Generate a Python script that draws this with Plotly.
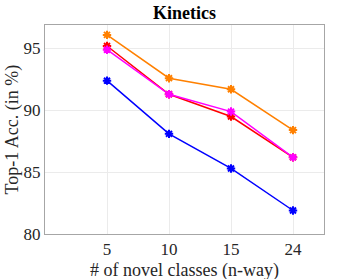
import plotly.graph_objects as go

categories = ["5", "10", "15", "24"]
series_orange = [96.1, 92.6, 91.7, 88.4]
series_red = [95.2, 91.3, 89.5, 86.2]
series_magenta = [94.9, 91.3, 89.9, 86.2]
series_blue = [92.4, 88.1, 85.3, 81.9]

series = [
    ("orange", series_orange, "#FF8000"),
    ("red", series_red, "#FF0000"),
    ("magenta", series_magenta, "#FF00FF"),
    ("blue", series_blue, "#0000FF"),
]

W, H = 347, 279
L, R, T, B = 45, 23, 25, 45

fig = go.Figure()
for name, vals, col in series:
    fig.add_trace(go.Scatter(
        x=list(range(len(categories))), y=vals, mode="lines+markers", name=name,
        line=dict(color=col, width=1.5),
        marker=dict(symbol="asterisk-open", size=7, line=dict(color=col, width=2)),
        showlegend=False,
    ))

font = "Liberation Serif"
txt = "#262626"
fig.update_layout(
    width=W, height=H,
    margin=dict(l=L, r=R, t=T, b=B, autoexpand=False),
    paper_bgcolor="white", plot_bgcolor="white",
    font=dict(family=font, color=txt),
    annotations=[
        dict(text="<b>Kinetics</b>", xref="paper", yref="paper", x=0.5, y=1, yshift=12,
             xanchor="center", yanchor="middle", showarrow=False,
             font=dict(family=font, size=18, color="black")),
        dict(text="# of novel classes (n-way)", xref="paper", yref="paper", x=0.5, y=0, yshift=-36,
             xanchor="center", yanchor="middle", showarrow=False,
             font=dict(family=font, size=18, color=txt)),
        dict(text="Top-1 Acc. (in %)", xref="paper", yref="paper", x=0, y=0.5, xshift=-33,
             xanchor="center", yanchor="middle", showarrow=False, textangle=-90,
             font=dict(family=font, size=18, color=txt)),
    ],
)
fig.update_xaxes(
    range=[-1, 3.5], tickmode="array", tickvals=list(range(len(categories))), ticktext=categories,
    showgrid=True, gridcolor="#EBEBEB", gridwidth=1,
    showline=True, linecolor="#A6A6A6", linewidth=1, mirror=True,
    ticks="", tickfont=dict(family=font, size=17, color=txt),
    zeroline=False, automargin=False,
)
fig.update_yaxes(
    range=[80, 96.9], tickvals=[80, 85, 90, 95],
    showgrid=True, gridcolor="#EBEBEB", gridwidth=1,
    showline=True, linecolor="#A6A6A6", linewidth=1, mirror=True,
    ticks="", tickfont=dict(family=font, size=17, color=txt),
    zeroline=False, automargin=False,
)
fig.write_html(
    "out.html",
    config={"displayModeBar": False},
    post_script="document.body.style.margin='0';document.body.style.padding='0';document.body.style.overflow='hidden';",
)
